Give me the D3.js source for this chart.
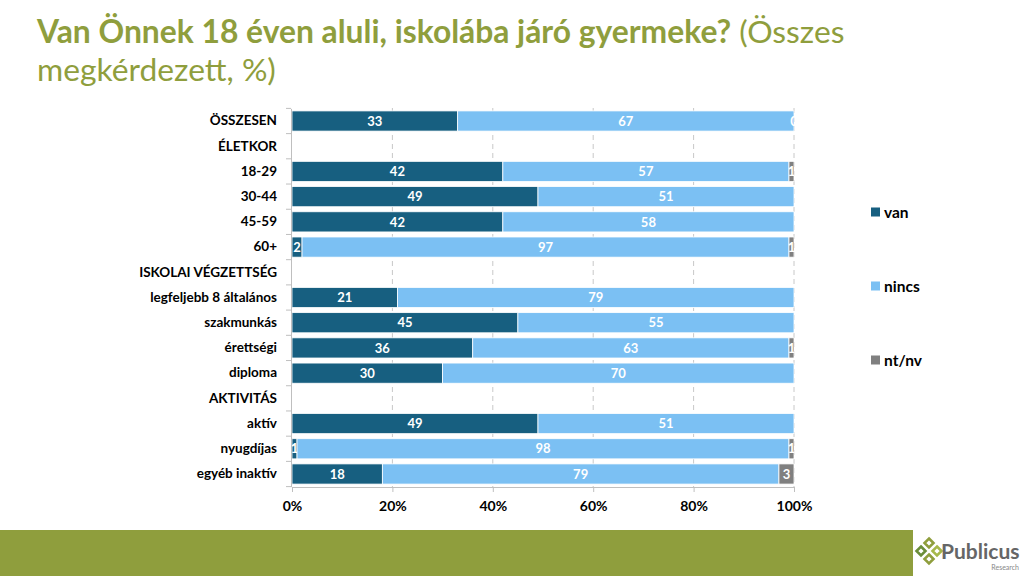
<!DOCTYPE html>
<html>
<head>
<meta charset="utf-8">
<script src="https://cdn.jsdelivr.net/npm/d3@7/dist/d3.min.js"></script>
<style>
  body { margin: 0; background: #fff; }
  svg { display: block; font-family: Lato, "Open Sans", sans-serif; }
</style>
</head>
<body>
<svg id="chart" width="1024" height="576"></svg>
<script>
// categories, top to bottom; null values mark group header rows
var categories = ["ÖSSZESEN", "ÉLETKOR", "18-29", "30-44", "45-59", "60+",
    "ISKOLAI VÉGZETTSÉG", "legfeljebb 8 általános", "szakmunkás", "érettségi", "diploma",
    "AKTIVITÁS", "aktív", "nyugdíjas", "egyéb inaktív"];
var van   = [33, null, 42, 49, 42, 2,  null, 21, 45, 36, 30, null, 49, 1,  18];
var nincs = [67, null, 57, 51, 58, 97, null, 79, 55, 63, 70, null, 51, 98, 79];
var ntnv  = [0.4, null, 1, 0, 0, 1,  null, 0,  0,  1,  0,  null, 0,  1,  3];
var seriesNames = ["van", "nincs", "nt/nv"];
var seriesColors = ["#175f80", "#7bc0f3", "#808080"];
var xTicks = [0, 20, 40, 60, 80, 100];

var olive = "#8f9e3d";
var svg = d3.select("#chart");

// title
var title = svg.append("text").attr("x", 37).attr("y", 43)
    .attr("fill", olive).style("font-size", "29px");
title.append("tspan").attr("font-weight", "bold").text("Van Önnek 18 éven aluli, iskolába járó gyermeke?");
title.append("tspan").text(" (Összes");
var w = title.node().getComputedTextLength();
var fs = 29 * 808 / w;
title.style("font-size", fs + "px");
svg.append("text").attr("x", 37).attr("y", 81).attr("fill", olive)
    .style("font-size", fs + "px").text("megkérdezett, %)");

// scales
var x = d3.scaleLinear().domain([0, 100]).range([292, 794]);
var y = d3.scaleBand().domain(categories).range([108.4, 486.6]).paddingInner(0.2).paddingOuter(0.1);

// grid lines
svg.append("g").selectAll("line").data(xTicks.slice(1)).join("line")
    .attr("x1", function (d) { return x(d); }).attr("x2", function (d) { return x(d); })
    .attr("y1", 108).attr("y2", 487)
    .attr("stroke", "#c8c8c8").attr("stroke-dasharray", "5,4");

// stacked bars
var rows = categories.map(function (c, i) {
    return { cat: c, vals: [van[i], nincs[i], ntnv[i]] };
});
var rowG = svg.append("g").selectAll("g").data(rows.filter(function (r) { return r.vals[0] !== null; }))
    .join("g");
rowG.each(function (r) {
    var g = d3.select(this);
    var acc = 0;
    r.vals.forEach(function (v, k) {
        var x0 = acc;
        acc += v;
        if (v <= 0) return;
        var x1 = Math.min(acc, 100);
        g.append("rect")
            .attr("x", x(x0)).attr("y", y(r.cat))
            .attr("width", x(x1) - x(x0)).attr("height", y.bandwidth())
            .attr("fill", seriesColors[k]).attr("stroke", "#fff").attr("stroke-width", 0.8);
        g.append("text")
            .attr("x", (x(x0) + x(x1)) / 2).attr("y", y(r.cat) + y.bandwidth() / 2)
            .attr("dy", "0.36em").attr("text-anchor", "middle")
            .attr("fill", "#fff").attr("font-weight", "bold").style("font-size", "13px")
            .text(Math.round(v));
    });
});

// y axis
var yAxis = d3.axisLeft(y).tickSize(0).tickPadding(14);
var yg = svg.append("g").attr("transform", "translate(291,0)").call(yAxis);
yg.select(".domain").attr("stroke", "#bfbfbf");
yg.selectAll("text").attr("fill", "#000").attr("font-weight", "bold").style("font-size", "13.5px")
    .style("font-family", "Lato, 'Open Sans', sans-serif");
// boundary ticks between categories
var step = y.step();
var bounds = d3.range(categories.length + 1).map(function (i) { return 108.4 + i * step; });
svg.append("g").selectAll("line").data(bounds).join("line")
    .attr("x1", 286).attr("x2", 291)
    .attr("y1", function (d) { return d; }).attr("y2", function (d) { return d; })
    .attr("stroke", "#bfbfbf");

// x axis
var xAxis = d3.axisBottom(x).tickValues(xTicks).tickSize(5).tickPadding(9)
    .tickFormat(function (d) { return d + "%"; });
var xg = svg.append("g").attr("transform", "translate(0,487)").call(xAxis);
xg.select(".domain").attr("stroke", "#bfbfbf");
xg.selectAll("line").attr("stroke", "#bfbfbf");
xg.selectAll("text").attr("fill", "#000").attr("font-weight", "bold").style("font-size", "14px")
    .style("font-family", "Lato, 'Open Sans', sans-serif");

// legend
var legend = svg.append("g").selectAll("g").data(seriesNames).join("g")
    .attr("transform", function (d, i) { return "translate(871," + (212 + i * 74) + ")"; });
legend.append("rect").attr("x", 0).attr("y", -4.5).attr("width", 9).attr("height", 9)
    .attr("fill", function (d, i) { return seriesColors[i]; });
legend.append("text").attr("x", 13).attr("y", 0).attr("dy", "0.36em")
    .attr("font-weight", "bold").style("font-size", "15.5px").text(function (d) { return d; });

// footer band and logo
svg.append("rect").attr("x", 0).attr("y", 530).attr("width", 913).attr("height", 46).attr("fill", olive);
var logo = svg.append("g").attr("transform", "translate(929,551)");
var diamonds = [[0, -8, "#8f9e3d"], [-8, 0, "#6b8e3a"], [8, 0, "#a6b84a"], [0, 8, "#8f9e3d"]];
logo.selectAll("path").data(diamonds).join("path")
    .attr("d", function (d) {
        return "M" + d[0] + "," + (d[1] - 4.5) + "l4.5,4.5l-4.5,4.5l-4.5,-4.5z";
    })
    .attr("fill", "none").attr("stroke", function (d) { return d[2]; }).attr("stroke-width", 2.6);
svg.append("text").attr("x", 941).attr("y", 559).attr("fill", "#666")
    .attr("font-weight", "bold").style("font-size", "21px").text("Publicus");
svg.append("text").attr("x", 1019).attr("y", 570).attr("text-anchor", "end").attr("fill", "#888")
    .style("font-size", "7px").text("Research");
</script>
</body>
</html>
